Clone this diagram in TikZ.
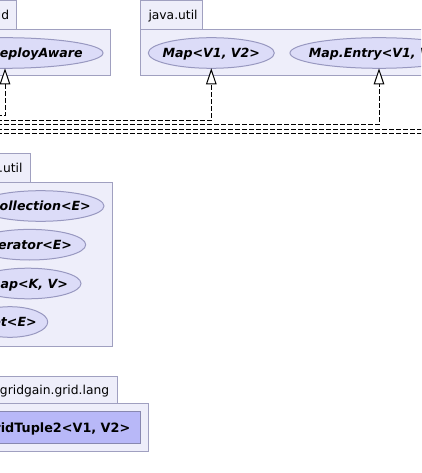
\documentclass[tikz,border=0pt]{standalone}
\usepackage{fontspec}
\setmainfont{DejaVu Sans}
\usetikzlibrary{arrows.meta,shapes.geometric}
\definecolor{pkgfill}{HTML}{EEEEFA}
\definecolor{pkgline}{HTML}{A0A0C0}
\definecolor{ellfill}{HTML}{DCDCF8}
\definecolor{ellline}{HTML}{9898C0}
\definecolor{clsfill}{HTML}{B8B8F8}
\definecolor{clsline}{HTML}{8888B0}
\newcommand\myctr[1]{\makebox[0pt]{\raisebox{-0.36em}[0pt][0pt]{#1}}}
\begin{document}
\begin{tikzpicture}[x=1pt,y=-1pt,
 pkg/.style={draw=pkgline,fill=pkgfill,line width=1pt},
 pkglabel/.style={font=\fontsize{12.3}{14}\selectfont,inner sep=0pt},
 iface/.style={ellipse,draw=ellline,fill=ellfill,line width=1pt,inner sep=0pt,outer sep=0pt,minimum height=30.6pt,font=\fontsize{12.6}{14}\selectfont\bfseries\itshape},
 cls/.style={rectangle,draw=clsline,fill=clsfill,line width=1pt,inner sep=0pt,font=\fontsize{12.8}{14}\selectfont\bfseries},
 dep/.style={draw=black,line width=1pt,dash pattern=on 5pt off 2pt},
 realize/.style={dep,-{Triangle[fill=white,line width=1pt,length=16pt,width=10.5pt]}},
]
\path[use as bounding box] (0,0) rectangle (421,473);
\clip (0,0) rectangle (421,473);
\fill[white] (0,0) rectangle (421,473);

% package org.gridgain.grid
\draw[pkg] (-20,1) rectangle (16.7,29.5);
\draw[pkg] (-20,29.5) rectangle (110.7,76);
\node[pkglabel,anchor=base east] (p1lab) at (9.3,20) {org.gridgain.grid};
\node[iface,minimum width=196pt] (deploy) at (5,53) {\myctr{GridPeerDeployAware}};

% package java.util (top)
\draw[pkg] (140,1) rectangle (202.7,29.5);
\draw[pkg] (140,29.5) rectangle (440,76);
\node[pkglabel,anchor=base west] (p2lab) at (148.3,20) {java.util};
\node[iface,minimum width=126pt] (map) at (211.3,53) {\myctr{Map<V1, V2>}};
\node[iface,minimum width=178pt] (entry) at (379,53) {\myctr{Map.Entry<V1, V2>}};

% package java.util (middle)
\draw[pkg] (-20,154) rectangle (30.7,182.3);
\draw[pkg] (-20,182.3) rectangle (112.7,346);
\node[pkglabel,anchor=base east] (p3lab) at (22.7,172.5) {java.util};
\node[iface,minimum width=126.8pt] (coll) at (40.6,206) {\myctr{Collection<E>}};
\node[iface,minimum width=112pt] (iter) at (29.7,244.7) {\myctr{Iterator<E>}};
\node[iface,minimum width=106.2pt] (mapkv) at (27.9,283.5) {\myctr{Map<K, V>}};
\node[iface,minimum width=75.4pt] (set) at (10,322) {\myctr{Set<E>}};

% package org.gridgain.grid.lang
\draw[pkg] (-20,376) rectangle (117.3,403.3);
\draw[pkg] (-20,403.3) rectangle (148.3,451);
\node[pkglabel,anchor=base east] (p4lab) at (109.3,394.5) {org.gridgain.grid.lang};
\node[cls,minimum width=167.2pt,minimum height=31.6pt] (tuple) at (57.1,427.5) {\myctr{GridTuple2<V1, V2>}};

% connectors
\coordinate (e1) at (-10,116);
\coordinate (e2) at (-10,120.5);
\coordinate (e3) at (-10,125);
\coordinate (e4a) at (-10,129.3);
\coordinate (e4b) at (431,129.3);
\coordinate (e5a) at (-10,133.3);
\coordinate (e5b) at (431,133.3);
\draw[realize] (e1) -| (deploy.south);
\draw[realize] (e2) -| (map.south);
\draw[realize] (e3) -| (entry.south);
\draw[dep] (e4a) -- (e4b);
\draw[dep] (e5a) -- (e5b);
\end{tikzpicture}
\end{document}
